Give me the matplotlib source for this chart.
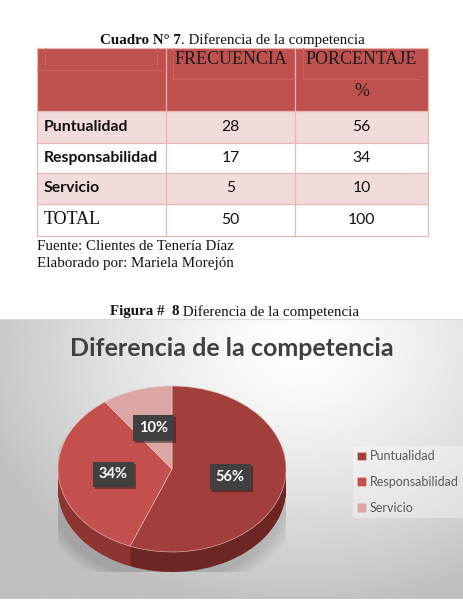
import numpy as np
import matplotlib
matplotlib.use("Agg")
import matplotlib.pyplot as plt
import matplotlib.patheffects as pe
from matplotlib.patches import Rectangle, Ellipse

# data read from the page
categorias = ["Puntualidad", "Responsabilidad", "Servicio"]
frecuencia = [28, 17, 5]
porcentaje = [56, 34, 10]
total_frec = 50
total_pct = 100

colores = ["#A23F3C", "#C4504E", "#DCA6A5"]
colores_lado = ["#6E2624", "#8E3431", "#9C6664"]

W, H = 463, 609
SERIF = "Liberation Serif"
SANS = ["Lato", "Open Sans", "DejaVu Sans"]
CAP = 10.85

fig = plt.figure(figsize=(W / 100, H / 100), dpi=100)
page = fig.add_axes([0, 0, 1, 1])
page.set_xlim(0, W)
page.set_ylim(H, 0)
page.axis("off")

# ---- table ----
col_x = [37, 166, 295, 428]
row_y = [48, 111, 143, 173, 204, 236]
fills = ["#C0504D", "#F2DCDB", "#FFFFFF", "#F2DCDB", "#FFFFFF"]
for r in range(len(row_y) - 1):
    page.add_patch(Rectangle((col_x[0], row_y[r]), col_x[-1] - col_x[0],
                             row_y[r + 1] - row_y[r], facecolor=fills[r],
                             edgecolor="none"))
for x in col_x:
    page.plot([x, x], [row_y[0], row_y[-1]], color="#E6B9B8", lw=0.9)
for y in row_y:
    page.plot([col_x[0], col_x[-1]], [y, y], color="#E6B9B8", lw=0.9)
# faint inner lines of the header
hl = "#CC6764"
page.plot([45, 45], [48, 70], color=hl, lw=0.6)
page.plot([157, 157], [48, 70], color=hl, lw=0.6)
page.plot([37, 166], [70, 70], color=hl, lw=0.6)
page.plot([173, 173], [48, 79], color=hl, lw=0.6)
page.plot([173, 295], [79, 79], color=hl, lw=0.6)
page.plot([303, 420], [79, 79], color=hl, lw=0.6)
page.plot([303, 303], [48, 79], color=hl, lw=0.6)

page.text(230.5, 60, "FRECUENCIA", fontsize=13, family=SERIF,
          color="#1E1E1E", ha="center", va="center")
page.text(361.5, 60, "PORCENTAJE", fontsize=13, family=SERIF,
          color="#1E1E1E", ha="center", va="center")
page.text(361.5, 92, "%", fontsize=13, family=SERIF,
          color="#1E1E1E", ha="center", va="center")

for i, cat in enumerate(categorias):
    yc = (row_y[i + 1] + row_y[i + 2]) / 2
    page.text(44, yc, cat, fontsize=11.3, family=SANS, weight="bold",
              color="#111111", ha="left", va="center")
    page.text(230.5, yc, str(frecuencia[i]), fontsize=11.3, family=SANS,
              color="#111111", ha="center", va="center")
    page.text(361.5, yc, str(porcentaje[i]), fontsize=11.3, family=SANS,
              color="#111111", ha="center", va="center")
yt = (row_y[-2] + row_y[-1]) / 2
page.text(44, yt, "TOTAL", fontsize=13, family=SERIF, color="#111111",
          ha="left", va="center")
page.text(230.5, yt, str(total_frec), fontsize=11.3, family=SANS,
          color="#111111", ha="center", va="center")
page.text(361.5, yt, str(total_pct), fontsize=11.3, family=SANS,
          color="#111111", ha="center", va="center")

# ---- captions ----
page.text(181, 40, "Cuadro N° 7", fontsize=CAP, family=SERIF, weight="bold",
          color="#111111", ha="right", va="center")
page.text(181, 40, ". Diferencia de la competencia", fontsize=CAP,
          family=SERIF, color="#111111", ha="left", va="center")
page.text(37, 246, "Fuente: Clientes de Tenería Díaz", fontsize=CAP,
          family=SERIF, color="#111111", ha="left", va="center")
page.text(37, 263, "Elaborado por: Mariela Morejón", fontsize=CAP,
          family=SERIF, color="#111111", ha="left", va="center")
page.text(179, 312, "Figura #  8", fontsize=CAP, family=SERIF, weight="bold",
          color="#111111", ha="right", va="center")
page.text(179, 312, " Diferencia de la competencia", fontsize=CAP,
          family=SERIF, color="#111111", ha="left", va="center")

# ---- chart background (soft radial gradient) ----
top, bot = 319, 598
gx, gy = np.meshgrid(np.linspace(0, W, 300), np.linspace(top, bot, 200))
d = np.sqrt(((gx - 300) / 330) ** 2 + ((gy - 345) / 260) ** 2)
shade = np.clip(1.0 - 0.24 * d ** 1.3, 0.75, 1.0)
page.imshow(shade, cmap="gray", vmin=0, vmax=1, extent=(0, W, bot, top),
            aspect="auto", zorder=0.5, interpolation="bilinear")
page.plot([0, W], [bot, bot], color="#BEBEBE", lw=1.2, zorder=0.6)
page.plot([0, W], [top, top], color="#DADADA", lw=0.8, zorder=0.6)

page.text(232, 348, "Diferencia de la competencia", fontsize=18,
          family=SANS, weight="bold", color="#404040", ha="center",
          va="center", zorder=2)

# ---- 3D-looking pie ----
cx, cy, a, b, depth = 172, 469, 114, 83, 20
dep = depth / b
pl, pt = cx - a, cy - b
ph = 2 * b + depth
ax = fig.add_axes([pl / W, 1 - (pt + ph) / H, 2 * a / W, ph / H])
ax.patch.set_alpha(0)

for k in range(6):
    ax.add_patch(Ellipse((-0.02, -0.2 - dep / 2), 2.08 + 0.05 * k,
                         2.05 + 0.05 * k, facecolor="#000000", alpha=0.025,
                         edgecolor="none", zorder=0))

n_layers = 24
for k in range(n_layers, 0, -1):
    ax.pie(frecuencia, colors=colores_lado, startangle=90, counterclock=False,
           center=(0, -dep * k / n_layers),
           wedgeprops=dict(linewidth=0, antialiased=True))

wedges, _, autotexts = ax.pie(
    frecuencia, colors=colores, startangle=90, counterclock=False,
    autopct="%1.0f%%", pctdistance=0.52,
    wedgeprops=dict(linewidth=0.4, edgecolor="#E9C5C4"),
    textprops=dict(color="white", fontsize=10.5, weight="bold", family=SANS))
for t in autotexts:
    t.set_bbox(dict(boxstyle="square,pad=0.4", facecolor="#404040",
                    edgecolor="none"))
    t.get_bbox_patch().set_path_effects(
        [pe.withSimplePatchShadow(offset=(1.5, -1.5), alpha=0.45)])

ax.set_aspect("auto")
ax.set_xlim(-1, 1)
ax.set_ylim(-1 - dep, 1)
ax.axis("off")

leg = fig.legend(wedges, categorias, loc="upper left",
                 bbox_to_anchor=(353 / W, 1 - 446 / H), frameon=True,
                 fancybox=False, handlelength=0.68, handleheight=0.68,
                 handletextpad=0.3, labelspacing=1.1, borderpad=0.35,
                 borderaxespad=0, prop=dict(family=SANS, size=9.0))
leg.get_frame().set_facecolor("white")
leg.get_frame().set_alpha(0.35)
leg.get_frame().set_edgecolor("none")
for t in leg.get_texts():
    t.set_color("#595959")

fig.savefig("out.png", dpi=100)
